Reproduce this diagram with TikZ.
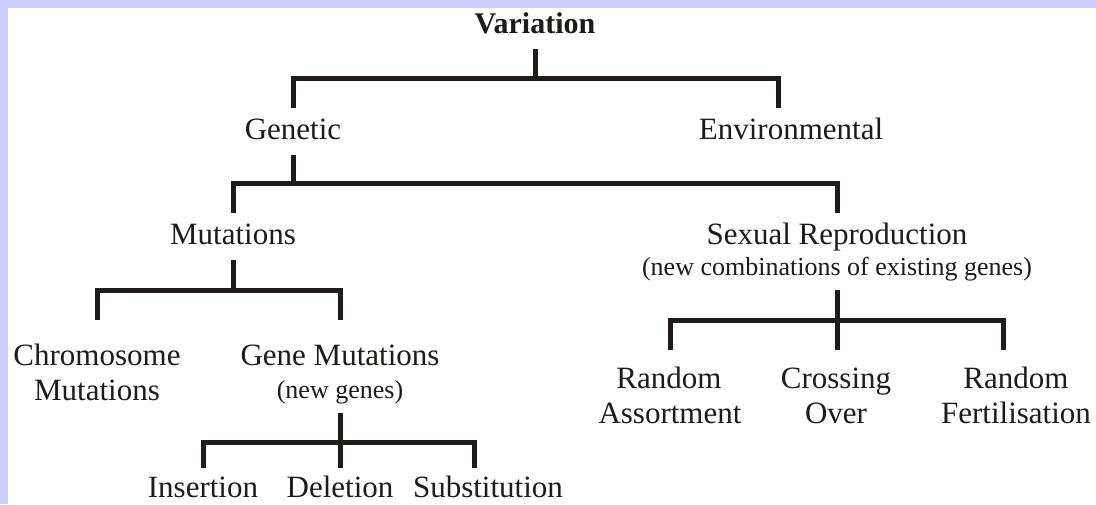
\documentclass[tikz,border=0pt]{standalone}
\usepackage{fontspec}
\setmainfont{Liberation Serif}
\definecolor{ink}{RGB}{30,27,26}
\definecolor{framecol}{RGB}{204,204,255}
\begin{document}
\begin{tikzpicture}[x=1pt,y=-1pt,
  lbl/.style={font=\fontsize{31}{36}\selectfont, text=ink, anchor=base,
    inner xsep=0pt, inner ysep=10pt, outer sep=0pt,
    text height=21pt, text depth=6pt},
  note/.style={lbl, font=\fontsize{26}{30}\selectfont,
    text height=18pt, text depth=5pt},
  title/.style={lbl, font=\fontsize{30}{34}\selectfont\bfseries},
  headroom/.style={outer ysep=#1},
  bar/.style={draw=ink, line width=5pt, line cap=butt, line join=miter}]

% page frame: lavender strip on top and left, white sheet
\fill[framecol] (0,0) rectangle (1096,504);
\fill[white] (8,8) rectangle (1096,504);
\useasboundingbox (0,0) rectangle (1096,504);

% labels
\node[title] (var) at (535,33) {Variation};
\node[lbl] (gen) at (293,139) {Genetic};
\node[lbl] (env) at (791,139) {Environmental};
\node[lbl] (mut) at (233,244) {Mutations};
\node[lbl] (sex) at (837,244) {Sexual Reproduction};
\node[note] (sexn) at (837,275) {(new combinations of existing genes)};
\node[lbl, headroom=14pt] (chr) at (97,365) {Chromosome};
\node[lbl] (chr2) at (97,400) {Mutations};
\node[lbl, headroom=14pt] (gm) at (340,365) {Gene Mutations};
\node[note] (gmn) at (340,398) {(new genes)};
\node[lbl, text depth=0pt, inner ysep=4pt] (ins) at (203,497) {Insertion};
\node[lbl, text depth=0pt, inner ysep=4pt] (del) at (340,497) {Deletion};
\node[lbl, text depth=0pt, inner ysep=4pt] (sub) at (488,497) {Substitution};
\node[lbl, headroom=7pt] (ra) at (669,388) {Random};
\node[lbl] (ra2) at (670,423) {Assortment};
\node[lbl, headroom=7pt] (co) at (836,388) {Crossing};
\node[lbl] (co2) at (836,423) {Over};
\node[lbl, headroom=7pt] (rf) at (1016,388) {Random};
\node[lbl] (rf2) at (1016,423) {Fertilisation};

% levels of the branching bars
\coordinate (b1) at (535,78);
\coordinate (b2) at (293,183);
\coordinate (b3) at (233,290);
\coordinate (b4) at (340,442);
\coordinate (b5) at (837,320);

% tree connectors
\draw[bar] (var.south) -- (b1);
\draw[bar] (gen.north) |- (b1) -| ([xshift=-13pt]env.north);
\draw[bar] (gen.south) -- (b2);
\draw[bar] (mut.north) |- (b2) -| (sex.north);
\draw[bar] (mut.south) -- (b3);
\draw[bar] (chr.north) |- (b3) -| (gm.north);
\draw[bar] (gmn.south) -- ([yshift=4pt]del.north);
\draw[bar] ([yshift=4pt]ins.north) |- (b4) -| ([xshift=-14pt,yshift=4pt]sub.north);
\draw[bar] (sexn.south) -- ([xshift=1pt]co.north);
\draw[bar] ([xshift=1pt]ra.north) |- (b5) -| ([xshift=-13pt]rf.north);
\end{tikzpicture}
\end{document}
